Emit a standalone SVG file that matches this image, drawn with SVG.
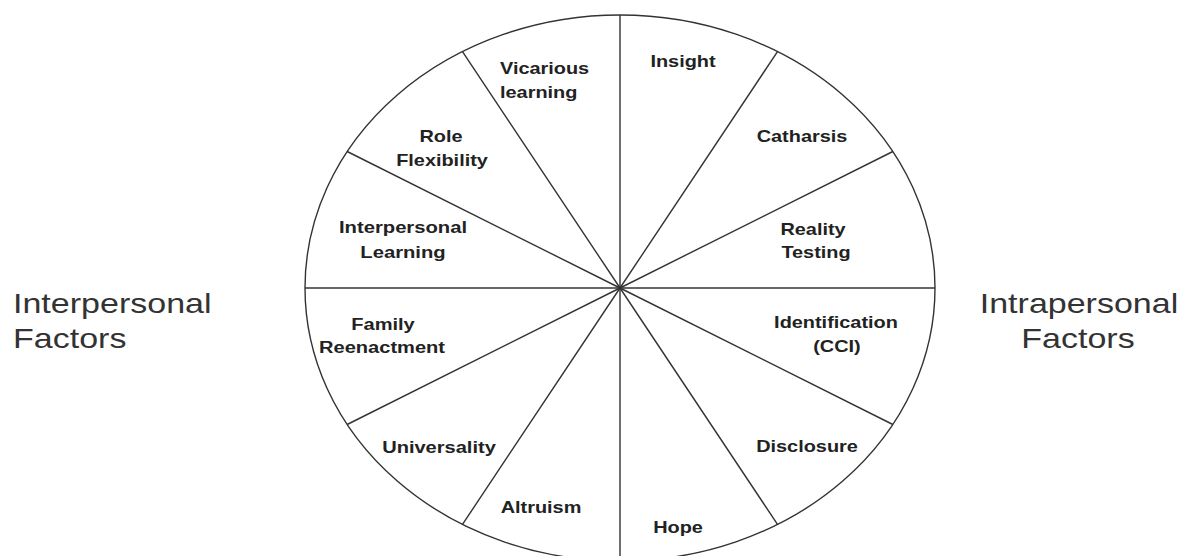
<svg xmlns="http://www.w3.org/2000/svg" width="1181" height="556" viewBox="0 0 1181 556">
<style>
.ln{stroke:#333;stroke-width:1.4;fill:none}
.lb{font-family:"Liberation Sans",Arial,sans-serif;font-weight:bold;font-size:17px;fill:#222;text-anchor:middle}
.side{font-family:"Liberation Sans",Arial,sans-serif;font-size:27px;fill:#333}
</style>
<rect width="1181" height="556" fill="#fff"/>
<g id="wheel">
<ellipse class="ln" cx="620" cy="288" rx="315" ry="273"/>
</g>
<g id="connectors">
<line class="ln" x1="620" y1="15" x2="620" y2="561"/>
<line class="ln" x1="305" y1="288" x2="935" y2="288"/>
<line class="ln" x1="620" y1="288" x2="892.8" y2="151.5"/>
<line class="ln" x1="620" y1="288" x2="777.5" y2="51.6"/>
<line class="ln" x1="620" y1="288" x2="462.5" y2="51.6"/>
<line class="ln" x1="620" y1="288" x2="347.2" y2="151.5"/>
<line class="ln" x1="620" y1="288" x2="347.2" y2="424.5"/>
<line class="ln" x1="620" y1="288" x2="462.5" y2="524.4"/>
<line class="ln" x1="620" y1="288" x2="777.5" y2="524.4"/>
<line class="ln" x1="620" y1="288" x2="892.8" y2="424.5"/>
</g>
<g id="vicarious-learning"><text class="lb" style="text-anchor:start" transform="translate(500,74) scale(1.17,1)">Vicarious</text><text class="lb" style="text-anchor:start" transform="translate(500,98) scale(1.17,1)">learning</text></g>
<g id="role-flexibility"><text class="lb" transform="translate(441,142) scale(1.17,1)">Role</text><text class="lb" transform="translate(442,166) scale(1.17,1)">Flexibility</text></g>
<g id="interpersonal-learning"><text class="lb" transform="translate(403,233) scale(1.19,1)">Interpersonal</text><text class="lb" transform="translate(403,258) scale(1.19,1)">Learning</text></g>
<g id="family-reenactment"><text class="lb" transform="translate(383,330) scale(1.18,1)">Family</text><text class="lb" transform="translate(382,353) scale(1.18,1)">Reenactment</text></g>
<g id="universality"><text class="lb" transform="translate(439,453) scale(1.18,1)">Universality</text></g>
<g id="altruism"><text class="lb" transform="translate(541,513) scale(1.17,1)">Altruism</text></g>
<g id="insight"><text class="lb" transform="translate(683,67) scale(1.17,1)">Insight</text></g>
<g id="catharsis"><text class="lb" transform="translate(802,142) scale(1.17,1)">Catharsis</text></g>
<g id="reality-testing"><text class="lb" transform="translate(813,235) scale(1.17,1)">Reality</text><text class="lb" transform="translate(816,258) scale(1.17,1)">Testing</text></g>
<g id="identification"><text class="lb" transform="translate(836,328) scale(1.17,1)">Identification</text><text class="lb" transform="translate(837,352) scale(1.17,1)">(CCI)</text></g>
<g id="disclosure"><text class="lb" transform="translate(807,452) scale(1.17,1)">Disclosure</text></g>
<g id="hope"><text class="lb" transform="translate(678,533) scale(1.17,1)">Hope</text></g>
<g id="interpersonal-factors"><text class="side" transform="translate(13,313) scale(1.26,1)">Interpersonal</text><text class="side" transform="translate(13,348) scale(1.26,1)">Factors</text></g>
<g id="intrapersonal-factors"><text class="side" style="text-anchor:middle" transform="translate(1079,313) scale(1.26,1)">Intrapersonal</text><text class="side" style="text-anchor:middle" transform="translate(1078,348) scale(1.26,1)">Factors</text></g>
</svg>
